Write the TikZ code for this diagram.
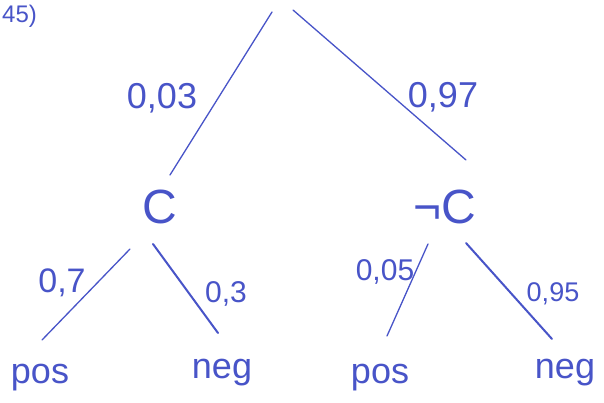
\documentclass[tikz,border=0pt]{standalone}
\usepackage{fontspec}
\setmainfont{Liberation Sans}
\definecolor{ink}{RGB}{72,84,200}
\begin{document}
\begin{tikzpicture}[x=1pt,y=-1pt,
  txt/.style={text=ink,inner sep=0pt},
  big/.style={txt,font=\fontsize{48}{50}\selectfont},
  lbl/.style={txt,font=\fontsize{36}{38}\selectfont},
  slbl/.style={txt,font=\fontsize{30}{32}\selectfont},
  leaf/.style={txt,font=\fontsize{36}{38}\selectfont},
  edge/.style={draw=ink,line width=1.3pt,line cap=round},
  thick edge/.style={draw=ink,line width=2pt,line cap=round}]
\useasboundingbox (0,0) rectangle (604,403);
\fill[white] (0,0) rectangle (604,403);
% number
\node[txt,font=\fontsize{24}{26}\selectfont,anchor=west] (num) at (2,16) {45)};
% root ends
\coordinate (rootL) at (272,12);
\coordinate (rootR) at (293,10);
% level 1
\node[big] (C) at (160,207) {C};
\node[big] (nC) at (445,207) {¬C};
\coordinate (Ctop) at (170,175);
\coordinate (nCtop) at (466,160);
\draw[edge] (rootL) -- (Ctop);
\draw[edge] (rootR) -- (nCtop);
\node[lbl] (p1) at (162,98) {0,03};
\node[lbl] (p2) at (443,97) {0,97};
% level 2 leaves
\node[leaf] (pos1) at (40,378) {pos};
\node[leaf] (neg1) at (222,373) {neg};
\node[leaf] (pos2) at (380,378) {pos};
\node[leaf] (neg2) at (565,373) {neg};
\coordinate (Cl) at (130,249);
\coordinate (Cr) at (153,244);
\coordinate (nCl) at (428,244);
\coordinate (nCr) at (466,243);
\coordinate (pos1t) at (42,340);
\coordinate (neg1t) at (218,333);
\coordinate (pos2t) at (387,336);
\coordinate (neg2t) at (552,339);
\draw[edge] (Cl) -- (pos1t);
\draw[thick edge] (Cr) -- (neg1t);
\draw[edge] (nCl) -- (pos2t);
\draw[thick edge] (nCr) -- (neg2t);
\node[txt,font=\fontsize{34}{36}\selectfont] (p3) at (62,283) {0,7};
\node[slbl] (p4) at (226,294) {0,3};
\node[slbl] (p5) at (385,272) {0,05};
\node[txt,font=\fontsize{27}{29}\selectfont] (p6) at (553,294) {0,95};
\end{tikzpicture}
\end{document}
